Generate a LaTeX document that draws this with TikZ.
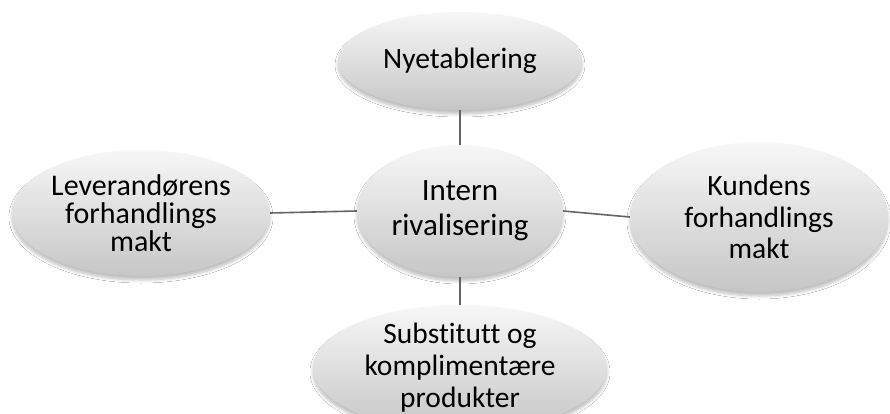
\documentclass[tikz,border=0pt]{standalone}
\usepackage{fontspec}
\setmainfont{Carlito}[Ligatures={NoCommon}]
\usetikzlibrary{shapes.geometric,shadows.blur}
\definecolor{topc}{RGB}{247,247,247}
\definecolor{botc}{RGB}{198,198,198}
\definecolor{linec}{RGB}{100,100,100}
\tikzset{
  bub/.style={ellipse, inner sep=0pt, align=center, text=black,
    top color=topc, bottom color=botc,
    blur shadow={shadow xshift=0pt, shadow yshift=-4pt, shadow blur radius=3pt, shadow blur steps=6, shadow opacity=25}},
  conn/.style={draw=linec, line width=1.6pt}
}
\begin{document}
\begin{tikzpicture}[x=1pt,y=-1pt]
\useasboundingbox (0,0) rectangle (890,414);
\clip (0,0) rectangle (890,414);
\fill[white] (0,0) rectangle (890,414);
\node[bub, minimum width=244pt, minimum height=98pt, font=\fontsize{29.5}{31}\selectfont] (top) at (460,61) {Nyetablering};
\node[bub, minimum width=206pt, minimum height=132pt, font=\fontsize{31}{35}\selectfont] (mid) at (460,211) {Intern\\rivalisering};
\node[bub, minimum width=258pt, minimum height=126pt, font=\fontsize{30}{28}\selectfont] (left) at (141,213) {Leverandørens\\forhandlings\\makt};
\node[bub, minimum width=258pt, minimum height=150pt, font=\fontsize{29.5}{31.5}\selectfont] (right) at (759,217) {Kundens\\forhandlings\\makt};
\node[bub, minimum width=294pt, minimum height=120pt, font=\fontsize{29.5}{32}\selectfont] (bot) at (460,368) {Substitutt og\\komplimentære\\produkter};
\draw[conn] (top.south) -- (mid.north);
\draw[conn] (left.east) -- (mid.west);
\draw[conn] (mid.east) -- (right.west);
\draw[conn] (mid.south) -- (bot.north);
\end{tikzpicture}
\end{document}
